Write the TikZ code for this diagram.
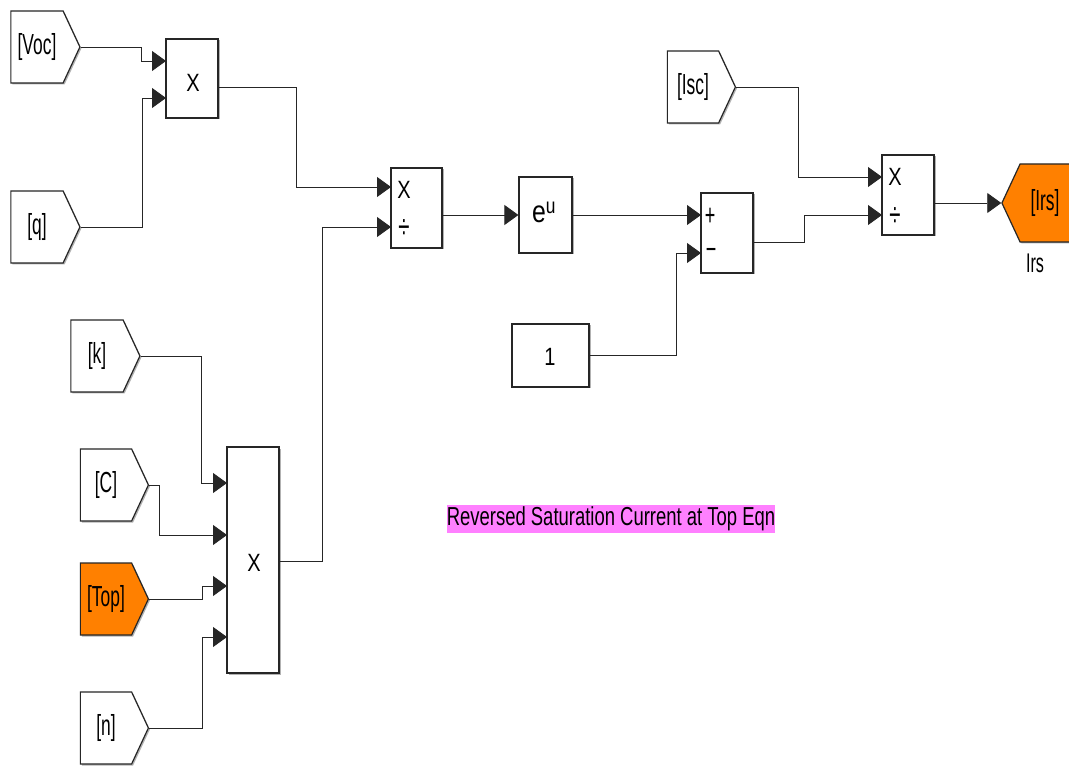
\documentclass[tikz,border=0pt]{standalone}
\usepackage{fontspec}
\setmainfont{Liberation Sans}
\newfontfamily\blockfont[FakeStretch=0.6]{Liberation Sans}
\newfontfamily\signfont[FakeStretch=0.8]{Liberation Sans}
\newfontfamily\notefont[FakeStretch=0.71]{Liberation Sans}
\usetikzlibrary{shapes.symbols, arrows.meta, shadows}
\definecolor{tagorange}{RGB}{255,128,0}
\definecolor{notepink}{RGB}{255,128,255}

\begin{document}
\begin{tikzpicture}[
  x=1pt, y=-1pt,
  blk/.style={rectangle, draw=black!85, line width=1.2pt, fill=white,
    inner sep=0pt, drop shadow={shadow xshift=1.5pt, shadow yshift=-1.5pt,
    fill=black!30, opacity=1}},
  tag/.style={signal, signal to=east, signal pointer angle=130,
    draw=black!85, line width=1.2pt, fill=white, inner sep=0pt,
    minimum width=69pt, minimum height=72pt,
    font=\blockfont\fontsize{29}{29}\selectfont,
    drop shadow={shadow xshift=1.5pt, shadow yshift=-1.5pt,
    fill=black!30, opacity=1}},
  sign/.style={inner sep=0pt, font=\signfont\fontsize{25}{25}\selectfont},
  small/.style={inner sep=0pt, font=\blockfont\fontsize{27}{27}\selectfont},
  wire/.style={draw=black!85, line width=0.9pt,
    -{Triangle[length=14pt,width=20pt]}}
]
  \fill[white] (0,0) rectangle (1069,767);
  \useasboundingbox (0,0) rectangle (1069,767);

  \node[tag] (voc) at (37,47) {[Voc]};
  \node[tag] (q) at (37,227) {[q]};
  \node[tag] (k) at (97,356) {[k]};
  \node[tag, minimum width=68pt] (cc) at (106,485) {[C]};
  \node[tag, minimum width=68pt, fill=tagorange] (top) at (106,599) {[Top]};
  \node[tag, minimum width=68pt] (n) at (106,728) {[n]};
  \node[tag, minimum width=68pt] (isc) at (693,87) {[Isc]};
  \node[tag, signal to=west, fill=tagorange, minimum width=68pt,
    minimum height=78pt] (irs) at (1045,203) {[Irs]};
  \node[small] (irs-name) at (1035,263) {Irs};

  \node[blk, minimum width=52pt, minimum height=79pt] (prodA) at (192,78.5) {};
  \node[blk, minimum width=51pt, minimum height=80pt] (divA) at (416.5,208) {};
  \node[blk, minimum width=53pt, minimum height=76pt] (expA) at (545.5,215) {};
  \node[blk, minimum width=52pt, minimum height=80pt] (sumA) at (727,233) {};
  \node[blk, minimum width=77pt, minimum height=63pt] (one) at (550.5,355.5) {};
  \node[blk, minimum width=52pt, minimum height=80pt] (divB) at (908,195) {};
  \node[blk, minimum width=52pt, minimum height=226pt] (prodB) at (253,560) {};

  \node[sign] (prodA-x) at (193,83) {X};
  \node[sign] (divA-x) at (404,190) {X};
  \node[small, font=\blockfont\fontsize{34}{34}\selectfont] (divA-div) at (404,229) {÷};
  \node[sign, font=\signfont\fontsize{31}{31}\selectfont] (expA-e) at (544,212) {e\textsuperscript{u}};
  \node[small, font=\blockfont\fontsize{30}{30}\selectfont] (sumA-plus) at (710,217) {+};
  \node[small, font=\blockfont\fontsize{30}{30}\selectfont] (sumA-minus) at (711,254) {−};
  \node[sign] (one-val) at (550,357) {1};
  \node[sign] (divB-x) at (895,177) {X};
  \node[small, font=\blockfont\fontsize{34}{34}\selectfont] (divB-div) at (895,217) {÷};
  \node[sign] (prodB-x) at (254,563) {X};

  \node[fill=notepink, minimum width=326pt, minimum height=28pt, inner sep=0pt,
    font=\notefont\fontsize{26}{26}\selectfont] (note) at (611,519)
    {Reversed Saturation Current at Top Eqn};

  \coordinate (prodA-in1) at (166,61);
  \coordinate (prodA-in2) at (166,98);
  \coordinate (prodA-out) at (218,87);
  \coordinate (divA-in1) at (391,187);
  \coordinate (divA-in2) at (391,227);
  \coordinate (divA-out) at (442,215);
  \coordinate (sumA-in1) at (701,215);
  \coordinate (sumA-in2) at (701,253);
  \coordinate (sumA-out) at (753,242);
  \coordinate (divB-in1) at (882,177);
  \coordinate (divB-in2) at (882,215);
  \coordinate (divB-out) at (934,203);
  \coordinate (prodB-in1) at (227,483);
  \coordinate (prodB-in2) at (227,535);
  \coordinate (prodB-in3) at (227,586);
  \coordinate (prodB-in4) at (227,637);
  \coordinate (prodB-out) at (279,561);

  \draw[wire] (voc.east) -- ++(61,0) |- (prodA-in1);
  \draw[wire] (q.east) -- ++(62,0) |- (prodA-in2);
  \draw[wire] (prodA-out) -- ++(78,0) |- (divA-in1);
  \draw[wire] (prodB-out) -- ++(43,0) |- (divA-in2);
  \draw[wire] (divA-out) -- (expA.west);
  \draw[wire] (expA.east) -- (sumA-in1);
  \draw[wire] (one.east) -- ++(87,0) |- (sumA-in2);
  \draw[wire] (sumA-out) -- ++(51,0) |- (divB-in2);
  \draw[wire] (isc.east) -- ++(62,0) |- (divB-in1);
  \draw[wire] (divB-out) -- (irs.west);
  \draw[wire] (k.east) -- ++(61,0) |- (prodB-in1);
  \draw[wire] (cc.east) -- ++(10,0) |- (prodB-in2);
  \draw[wire] (top.east) -- ++(53,0) |- (prodB-in3);
  \draw[wire] (n.east) -- ++(53,0) |- (prodB-in4);
\end{tikzpicture}
\end{document}
